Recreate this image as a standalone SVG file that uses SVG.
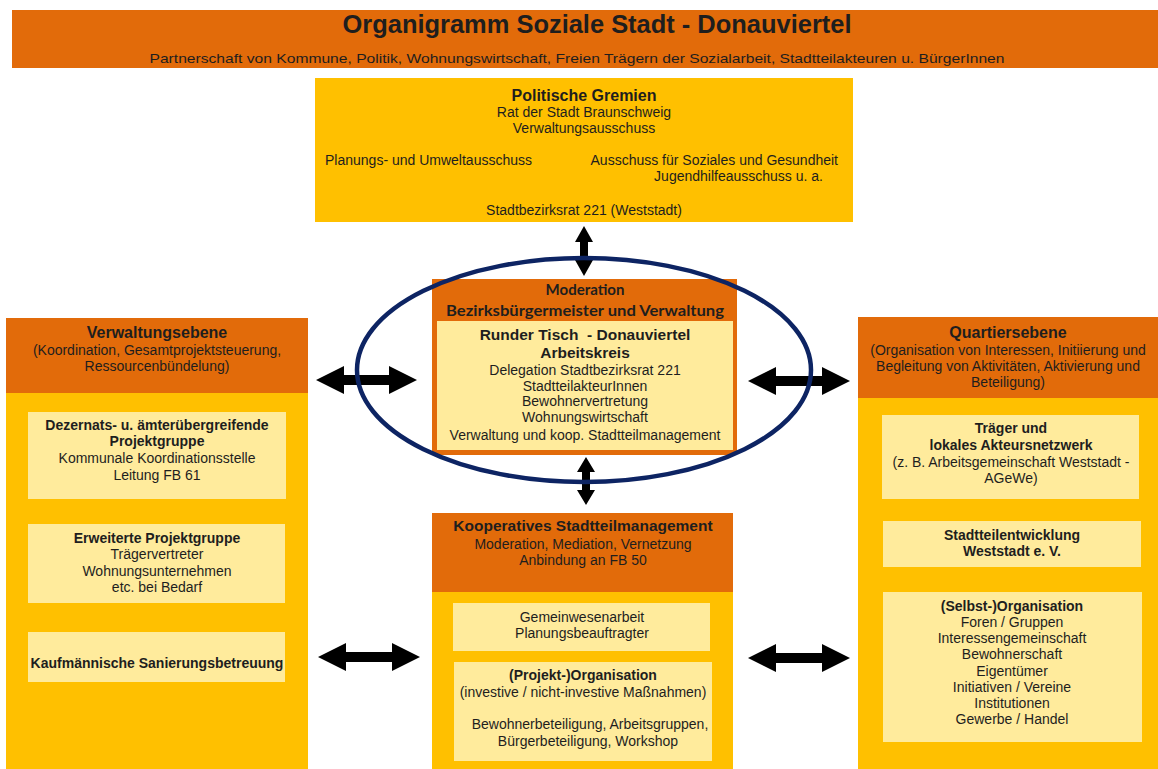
<svg xmlns="http://www.w3.org/2000/svg" width="1158" height="769" viewBox="0 0 1158 769">
<style>
.or{fill:#E26B0A}
.ye{fill:#FFC000}
.lt{fill:#FFEB9C}
text{font-family:"Liberation Sans",Arial,sans-serif;fill:#1e1e1e;font-size:14px;text-anchor:middle}
.b{font-weight:bold}
.h{font-weight:bold;font-size:16px}
.t{font-weight:bold;font-size:15.5px}
.cal{font-family:Lato,"Open Sans",sans-serif;font-weight:bold;font-size:15px}
.arr{fill:#000}
</style>
<rect width="1158" height="769" fill="#fff"/>
<g id="header">
<rect class="or" x="12" y="10" width="1146" height="58"/>
<text x="597" y="33" class="b" style="font-size:25px" textLength="509" lengthAdjust="spacingAndGlyphs">Organigramm Soziale Stadt - Donauviertel</text>
<text x="577" y="63" style="font-size:13.5px" textLength="855" lengthAdjust="spacingAndGlyphs">Partnerschaft von Kommune, Politik, Wohnungswirtschaft, Freien Trägern der Sozialarbeit, Stadtteilakteuren u. BürgerInnen</text>
</g>
<g id="politische-gremien">
<rect class="ye" x="315" y="78" width="538" height="144"/>
<text x="584" y="101" class="h">Politische Gremien</text>
<text x="584" y="117">Rat der Stadt Braunschweig</text>
<text x="584" y="133">Verwaltungsausschuss</text>
<text x="325" y="165" style="text-anchor:start">Planungs- und Umweltausschuss</text>
<text x="838" y="165" style="text-anchor:end">Ausschuss für Soziales und Gesundheit</text>
<text x="823" y="181" style="text-anchor:end">Jugendhilfeausschuss u. a.</text>
<text x="584" y="215">Stadtbezirksrat 221 (Weststadt)</text>
</g>
<g id="moderation">
<rect class="or" x="432" y="279" width="305" height="176"/>
<text x="585" y="295" class="cal">Moderation</text>
<text x="585" y="316" class="cal" textLength="278" lengthAdjust="spacingAndGlyphs">Bezirksbürgermeister und Verwaltung</text>
<rect class="lt" x="437" y="321" width="296" height="129"/>
<text x="585" y="340" class="t" xml:space="preserve">Runder Tisch  - Donauviertel</text>
<text x="585" y="358" class="t">Arbeitskreis</text>
<text x="585" y="375">Delegation Stadtbezirksrat 221</text>
<text x="585" y="391">StadtteilakteurInnen</text>
<text x="585" y="406">Bewohnervertretung</text>
<text x="585" y="422">Wohnungswirtschaft</text>
<text x="585" y="440">Verwaltung und koop. Stadtteilmanagement</text>
</g>
<g id="verwaltungsebene">
<rect class="ye" x="6" y="318" width="302" height="451"/>
<rect class="or" x="6" y="318" width="302" height="75"/>
<text x="157" y="338" class="h">Verwaltungsebene</text>
<text x="157" y="355">(Koordination, Gesamtprojektsteuerung,</text>
<text x="157" y="371">Ressourcenbündelung)</text>
</g>
<g id="dezernats-projektgruppe">
<rect class="lt" x="28" y="412" width="258" height="87"/>
<text x="157" y="430" class="b">Dezernats- u. ämterübergreifende</text>
<text x="157" y="446" class="b">Projektgruppe</text>
<text x="157" y="463">Kommunale Koordinationsstelle</text>
<text x="157" y="480">Leitung FB 61</text>
</g>
<g id="erweiterte-projektgruppe">
<rect class="lt" x="28" y="524" width="257" height="79"/>
<text x="157" y="543" class="b">Erweiterte Projektgruppe</text>
<text x="157" y="559">Trägervertreter</text>
<text x="157" y="576">Wohnungsunternehmen</text>
<text x="157" y="592">etc. bei Bedarf</text>
</g>
<g id="sanierungsbetreuung">
<rect class="lt" x="28" y="632" width="257" height="50"/>
<text x="157" y="668" class="b">Kaufmännische Sanierungsbetreuung</text>
</g>
<g id="kooperatives-stadtteilmanagement">
<rect class="ye" x="432" y="513" width="301" height="256"/>
<rect class="or" x="432" y="513" width="301" height="79"/>
<text x="583" y="531" class="t">Kooperatives Stadtteilmanagement</text>
<text x="583" y="549">Moderation, Mediation, Vernetzung</text>
<text x="583" y="565">Anbindung an FB 50</text>
</g>
<g id="gemeinwesenarbeit">
<rect class="lt" x="453" y="603" width="257" height="48"/>
<text x="582" y="622">Gemeinwesenarbeit</text>
<text x="582" y="638">Planungsbeauftragter</text>
</g>
<g id="projekt-organisation">
<rect class="lt" x="454" y="662" width="258" height="99"/>
<text x="583" y="680" class="b">(Projekt-)Organisation</text>
<text x="583" y="697">(investive / nicht-investive Maßnahmen)</text>
<text x="590" y="729">Bewohnerbeteiligung, Arbeitsgruppen,</text>
<text x="588" y="746">Bürgerbeteiligung, Workshop</text>
</g>
<g id="quartiersebene">
<rect class="ye" x="858" y="317" width="300" height="452"/>
<rect class="or" x="858" y="317" width="300" height="81"/>
<text x="1008" y="338" class="h">Quartiersebene</text>
<text x="1008" y="355">(Organisation von Interessen, Initiierung und</text>
<text x="1008" y="371">Begleitung von Aktivitäten, Aktivierung und</text>
<text x="1008" y="387">Beteiligung)</text>
</g>
<g id="traeger-akteursnetzwerk">
<rect class="lt" x="882" y="415" width="257" height="84"/>
<text x="1011" y="433" class="b">Träger und</text>
<text x="1011" y="450" class="b">lokales Akteursnetzwerk</text>
<text x="1011" y="467">(z. B. Arbeitsgemeinschaft Weststadt -</text>
<text x="1011" y="483">AGeWe)</text>
</g>
<g id="stadtteilentwicklung">
<rect class="lt" x="883" y="521" width="258" height="46"/>
<text x="1012" y="540" class="b">Stadtteilentwicklung</text>
<text x="1012" y="556" class="b">Weststadt e. V.</text>
</g>
<g id="selbst-organisation">
<rect class="lt" x="883" y="592" width="259" height="150"/>
<text x="1012" y="611" class="b">(Selbst-)Organisation</text>
<text x="1012" y="627">Foren / Gruppen</text>
<text x="1012" y="643">Interessengemeinschaft</text>
<text x="1012" y="659">Bewohnerschaft</text>
<text x="1012" y="676">Eigentümer</text>
<text x="1012" y="692">Initiativen / Vereine</text>
<text x="1012" y="708">Institutionen</text>
<text x="1012" y="724">Gewerbe / Handel</text>
</g>
<g id="connectors" class="arr">
<polygon points="584,226 593,242 588,242 588,260 593,260 584,276 575,260 580,260 580,242 575,242"/>
<polygon points="586,457 595,472 590,472 590,490 595,490 586,505 577,490 582,490 582,472 577,472"/>
<polygon points="316,380 344,366 344,375 389,375 389,366 417,380 389,394 389,385 344,385 344,394"/>
<polygon points="748,381 776,367 776,376 822,376 822,367 850,381 822,395 822,386 776,386 776,395"/>
<polygon points="318,657 346,643 346,652 392,652 392,643 420,657 392,671 392,662 346,662 346,671"/>
<polygon points="748,658 776,644 776,653 822,653 822,644 850,658 822,672 822,663 776,663 776,672"/>
</g>
<g id="highlight-ellipse">
<ellipse cx="584" cy="370" rx="227" ry="112" fill="none" stroke="#0D2463" stroke-width="4.5"/>
</g>
</svg>
